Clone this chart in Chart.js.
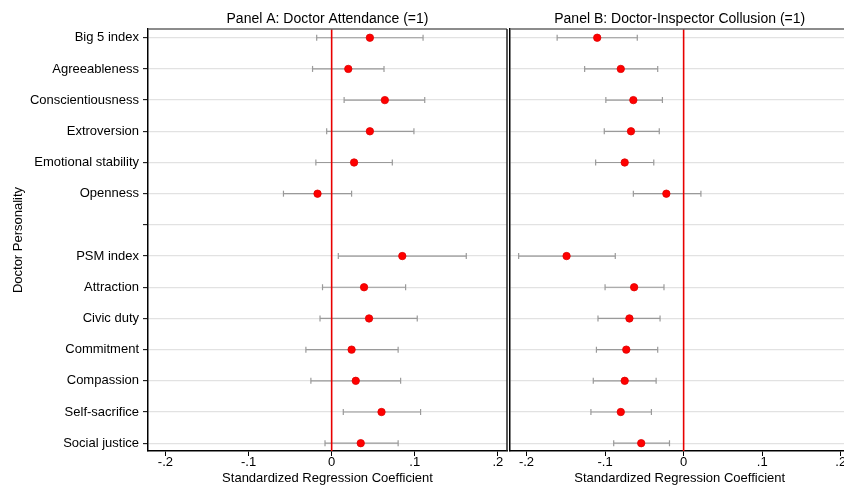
<!DOCTYPE html>
<html>
<head>
<meta charset="utf-8">
<script src="https://cdn.jsdelivr.net/npm/chart.js@4.4.0/dist/chart.umd.min.js"></script>
<style>
  html, body { margin: 0; padding: 0; background: #fff; overflow: hidden; }
  #wrap { position: relative; width: 844px; height: 494px; overflow: hidden; }
  #chartA { position: absolute; left: 0; top: 0; }
  #chartB { position: absolute; left: 508px; top: 0; }
</style>
</head>
<body>
<div id="wrap">
  <canvas id="chartA" width="508" height="494"></canvas>
  <canvas id="chartB" width="350" height="494"></canvas>
</div>
<script>
// rows of the coefficient plot, row 6 is the empty spacer
const rowLabels = ['Big 5 index', 'Agreeableness', 'Conscientiousness', 'Extroversion',
  'Emotional stability', 'Openness', '', 'PSM index', 'Attraction', 'Civic duty',
  'Commitment', 'Compassion', 'Self-sacrifice', 'Social justice'];
const xTicks = [-0.2, -0.1, 0, 0.1, 0.2];
const xTickLabels = ['-.2', '-.1', '0', '.1', '.2'];

// Panel A: doctor attendance
const attendCoef = [0.046, 0.020, 0.064, 0.046, 0.027, -0.017, null, 0.085, 0.039, 0.045, 0.024, 0.029, 0.060, 0.035];
const attendLow  = [-0.018, -0.023, 0.015, -0.006, -0.019, -0.058, null, 0.008, -0.011, -0.014, -0.031, -0.025, 0.014, -0.008];
const attendHigh = [0.110, 0.063, 0.112, 0.099, 0.073, 0.024, null, 0.162, 0.089, 0.103, 0.080, 0.083, 0.107, 0.080];

// Panel B: doctor-inspector collusion
const collusionCoef = [-0.110, -0.080, -0.064, -0.067, -0.075, -0.022, null, -0.149, -0.063, -0.069, -0.073, -0.075, -0.080, -0.054];
const collusionLow  = [-0.161, -0.126, -0.099, -0.101, -0.112, -0.064, null, -0.210, -0.100, -0.109, -0.111, -0.115, -0.118, -0.089];
const collusionHigh = [-0.059, -0.033, -0.027, -0.031, -0.038, 0.022, null, -0.087, -0.025, -0.030, -0.033, -0.035, -0.041, -0.018];

const xMin = -0.221, xMax = 0.211;
const yMin = -0.28, yMax = 13.25;

Chart.defaults.font.family = "'Liberation Sans', Arial, sans-serif";
Chart.defaults.font.size = 13;
Chart.defaults.color = '#000';

const framePlugin = {
  id: 'frame',
  afterDatasetsDraw(chart) {
    const { ctx, chartArea: { left, right, top, bottom } } = chart;
    ctx.save();
    ctx.lineWidth = 1.5;
    ctx.strokeStyle = '#666';
    ctx.beginPath();
    ctx.moveTo(left, top);
    ctx.lineTo(right, top);
    ctx.stroke();
    ctx.strokeStyle = '#222';
    ctx.beginPath();
    ctx.moveTo(right, top);
    ctx.lineTo(right, bottom);
    ctx.stroke();
    ctx.restore();
  }
};

function makePanel(id, title, coef, low, high, isLeft, padRight) {
  const points = [], bars = [], caps = [];
  coef.forEach((c, i) => {
    if (c === null) return;
    points.push({ x: c, y: i });
    bars.push({ x: low[i], y: i }, { x: high[i], y: i }, { x: null, y: null });
    caps.push({ x: low[i], y: i }, { x: high[i], y: i });
  });

  new Chart(document.getElementById(id), {
    type: 'scatter',
    data: {
      datasets: [
        {
          data: points,
          pointRadius: 3.7,
          pointBackgroundColor: '#ff0000',
          pointBorderColor: '#e00000',
          pointBorderWidth: 0.8,
          order: 0
        },
        {
          data: [{ x: 0, y: yMin }, { x: 0, y: yMax }],
          showLine: true,
          pointRadius: 0,
          borderColor: '#e80000',
          borderWidth: 1.6,
          order: 1
        },
        {
          data: caps,
          pointStyle: 'line',
          rotation: 90,
          pointRadius: 3,
          pointBorderColor: '#9a9a9a',
          pointBorderWidth: 1.2,
          order: 2
        },
        {
          data: bars,
          showLine: true,
          spanGaps: false,
          pointRadius: 0,
          borderColor: '#9a9a9a',
          borderWidth: 1.2,
          order: 3
        }
      ]
    },
    options: {
      responsive: false,
      animation: false,
      layout: { autoPadding: false, padding: { left: 0, right: padRight, top: 0, bottom: 0 } },
      plugins: {
        legend: { display: false },
        tooltip: { enabled: false },
        title: {
          display: true,
          text: title,
          fullSize: false,
          color: '#000',
          font: { size: 14, weight: 'normal' },
          padding: { top: 11, bottom: 1.2 }
        }
      },
      scales: {
        x: {
          type: 'linear',
          min: xMin,
          max: xMax,
          afterBuildTicks: s => { s.ticks = xTicks.map(v => ({ value: v })); },
          afterFit: s => { s.height = 43; s.paddingLeft = 0; s.paddingRight = 0; },
          ticks: {
            padding: 0,
            color: '#000',
            font: { size: 13, lineHeight: 1 },
            callback: (v, i) => xTickLabels[i]
          },
          grid: { drawOnChartArea: false, tickLength: 5, tickColor: '#000', tickWidth: 1 },
          border: { color: '#000', width: 1.5 },
          title: {
            display: true,
            text: 'Standardized Regression Coefficient',
            color: '#000',
            font: { size: 13 },
            padding: { top: 0, bottom: 8 }
          }
        },
        y: {
          type: 'linear',
          reverse: true,
          min: yMin,
          max: yMax,
          afterBuildTicks: s => { s.ticks = rowLabels.map((_, i) => ({ value: i })); },
          afterFit: s => { s.width = isLeft ? 148 : 2; s.paddingTop = 0; s.paddingBottom = 0; },
          ticks: {
            display: isLeft,
            autoSkip: false,
            padding: 4,
            color: '#000',
            font: { size: 13 },
            callback: (v, i) => rowLabels[i]
          },
          grid: {
            color: '#e2e2e2',
            lineWidth: 1.3,
            tickColor: '#000',
            tickWidth: 1,
            tickLength: isLeft ? 5 : 0,
            drawTicks: isLeft
          },
          border: { color: '#000', width: 1.5 },
          title: {
            display: isLeft,
            text: 'Doctor Personality',
            color: '#000',
            font: { size: 13 },
            padding: { top: 11, bottom: 0 }
          }
        }
      }
    },
    plugins: [framePlugin]
  });
}

makePanel('chartA', 'Panel A: Doctor Attendance (=1)', attendCoef, attendLow, attendHigh, true, 1);
makePanel('chartB', 'Panel B: Doctor-Inspector Collusion (=1)', collusionCoef, collusionLow, collusionHigh, false, 8.6);
</script>
</body>
</html>
